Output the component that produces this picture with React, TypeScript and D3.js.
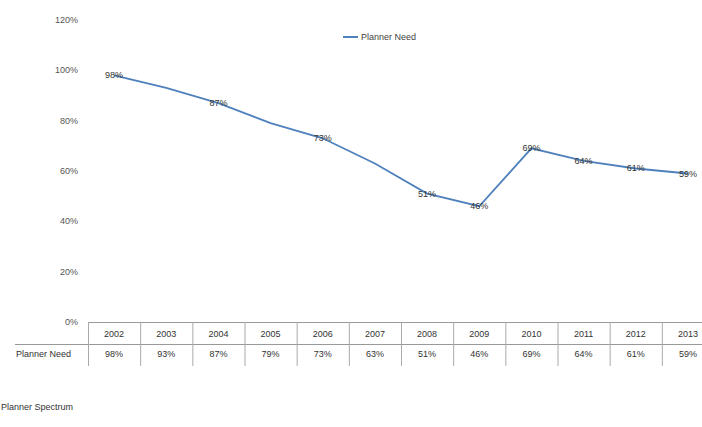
import React from "react";
import * as d3 from "d3";

const years = ["2002","2003","2004","2005","2006","2007","2008","2009","2010","2011","2012","2013"];
const values = [0.98, 0.93, 0.87, 0.79, 0.73, 0.63, 0.51, 0.46, 0.69, 0.64, 0.61, 0.59];
const showLabel = [true, false, true, false, true, false, true, true, true, true, true, true];
const yTicks = [0, 0.2, 0.4, 0.6, 0.8, 1.0, 1.2];
const seriesName = "Planner Need";
const footer = "Planner Spectrum";

export default function App() {
  const W = 702, H = 427;
  const x = d3.scaleBand<string>().domain(years).range([88, 714]);
  const y = d3.scaleLinear().domain([0, 1.2]).range([322, 20]);
  const fmt = d3.format(".0%");
  const line = d3.line<number>().x((_, i) => (x(years[i]) as number) + x.bandwidth() / 2).y(d => y(d));
  const font = "'Liberation Sans', Arial, sans-serif";
  const bounds = years.map(yr => x(yr) as number).concat([(x(years[years.length - 1]) as number) + x.bandwidth()]);
  return (
    <svg width={W} height={H} style={{ position: "absolute", left: 0, top: 0, background: "#fff" }} fontFamily={font}>
      <rect x={0} y={0} width={W} height={H} fill="#fff" />
      {yTicks.map(t => (
        <text key={t} x={78} y={y(t) + 3} textAnchor="end" fontSize={9} fill="#555">{fmt(t)}</text>
      ))}
      <line x1={343} x2={358} y1={37} y2={37} stroke="#4f81bd" strokeWidth={2} />
      <text x={361} y={40} fontSize={9} fill="#444">{seriesName}</text>
      <path d={line(values) || ""} fill="none" stroke="#4f81bd" strokeWidth={1.8} />
      {values.map((v, i) => showLabel[i] ? (
        <text key={i} x={(x(years[i]) as number) + x.bandwidth() / 2} y={y(v) + 3} textAnchor="middle" fontSize={9} fill="#333">{fmt(v)}</text>
      ) : null)}
      <line x1={88} x2={714} y1={322.5} y2={322.5} stroke="#999" />
      <line x1={15} x2={714} y1={344.5} y2={344.5} stroke="#999" />
      {bounds.map((b, i) => (
        <line key={i} x1={b + 0.5} x2={b + 0.5} y1={322} y2={366} stroke="#aaa" />
      ))}
      {years.map((yr) => (
        <text key={yr} x={(x(yr) as number) + x.bandwidth() / 2} y={337} textAnchor="middle" fontSize={9} fill="#333">{yr}</text>
      ))}
      <text x={16} y={357} fontSize={9} fill="#333">{seriesName}</text>
      {values.map((v, i) => (
        <text key={i} x={(x(years[i]) as number) + x.bandwidth() / 2} y={357} textAnchor="middle" fontSize={9} fill="#333">{fmt(v)}</text>
      ))}
      <text x={1} y={410} fontSize={9} fill="#333">{footer}</text>
    </svg>
  );
}
